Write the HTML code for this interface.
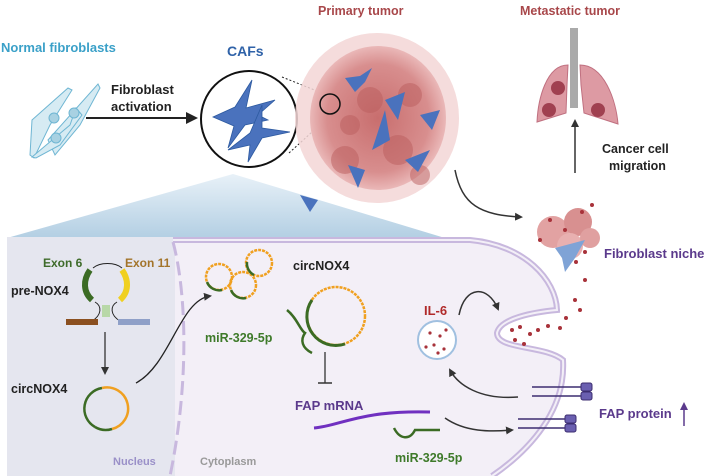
<!DOCTYPE html>
<html><head><meta charset="utf-8"><style>
html,body{margin:0;padding:0;background:#fff;}
svg{display:block;font-family:"Liberation Sans",sans-serif;font-weight:bold;}
</style></head><body>
<svg width="708" height="476" viewBox="0 0 708 476" xmlns="http://www.w3.org/2000/svg">
<defs>
<linearGradient id="tg" x1="0" y1="0" x2="0" y2="1"><stop offset="0" stop-color="#e8f1f8"/><stop offset="1" stop-color="#b3cfe3"/></linearGradient>
<radialGradient id="tum" cx="0.5" cy="0.5" r="0.5"><stop offset="0" stop-color="#c86e6e"/><stop offset="0.75" stop-color="#d88e8e"/><stop offset="1" stop-color="#eab8b8"/></radialGradient>
<marker id="ah" markerWidth="8" markerHeight="8" refX="6" refY="4" orient="auto" markerUnits="userSpaceOnUse"><path d="M0,0 L8,4 L0,8 z" fill="#333"/></marker>
<marker id="ahb" markerWidth="12" markerHeight="12" refX="10" refY="6" orient="auto" markerUnits="userSpaceOnUse"><path d="M0,0 L12,6 L0,12 z" fill="#222"/></marker>
</defs>

<!-- trapezoid (behind tumor) -->
<path d="M233,174 L445,238 L7,238 Z" fill="url(#tg)"/>

<!-- top labels -->
<text x="1" y="52" font-size="13" fill="#3aa0c8">Normal fibroblasts</text>
<text x="227" y="56" font-size="14" fill="#2f62a8">CAFs</text>
<text x="318" y="15" font-size="12.5" fill="#a8474a">Primary tumor</text>
<text x="520" y="15" font-size="12.5" fill="#a8474a">Metastatic tumor</text>
<text x="111" y="94" font-size="13" fill="#222">Fibroblast</text>
<text x="111" y="111" font-size="13" fill="#222">activation</text>
<text x="602" y="153" font-size="12.5" fill="#222">Cancer cell</text>
<text x="609" y="170" font-size="12.5" fill="#222">migration</text>

<!-- normal fibroblasts -->
<g fill="#d6ebf3" stroke="#6fb6d3" stroke-width="1">
<path d="M32,120 L68,88 L72,90 L50,125 L34,158 L30,155 Z"/>
<path d="M48,140 L98,84 L100,88 L80,125 L55,155 Z"/>
<path d="M32,157 L70,125 L76,108 L82,115 L60,145 L36,158 Z"/>
<circle cx="54" cy="118" r="5" fill="#a8d1e2"/><circle cx="74" cy="113" r="5" fill="#a8d1e2"/><circle cx="56" cy="138" r="5" fill="#a8d1e2"/>
</g>
<line x1="86" y1="118" x2="196" y2="118" stroke="#222" stroke-width="2" marker-end="url(#ahb)"/>

<!-- CAF circle -->
<circle cx="249" cy="119" r="48" fill="#fff" stroke="#111" stroke-width="2"/>
<g fill="#4a72bd" stroke="#2d5aa0" stroke-width="0.8">
<path d="M213,117 L235,107 L252,80 L246,108 L275,100 L258,115 L268,120 L245,125 L228,148 L234,126 Z"/>
<path d="M228,150 L250,133 L262,105 L262,128 L290,132 L262,138 L248,162 L250,145 Z"/>
</g>
<line x1="282" y1="77" x2="327" y2="95" stroke="#222" stroke-dasharray="2,2"/>
<line x1="289" y1="153" x2="334" y2="112" stroke="#222" stroke-dasharray="2,2"/>

<!-- tumor -->
<ellipse cx="377" cy="118" rx="82" ry="85" fill="#f3d6d6" opacity="0.85"/>
<ellipse cx="378" cy="118" rx="68" ry="72" fill="url(#tum)"/>
<g fill="#bb5e5e" opacity="0.5">
<circle cx="345" cy="160" r="14"/><circle cx="398" cy="150" r="15"/><circle cx="370" cy="100" r="13"/><circle cx="410" cy="95" r="12"/><circle cx="350" cy="125" r="10"/><circle cx="420" cy="175" r="10"/>
</g>
<g fill="#4a72bd">
<path d="M345,78 L360,76 L372,68 L365,82 L355,92 Z"/><path d="M385,100 L405,92 L398,120 Z"/><path d="M348,165 L365,170 L358,188 Z"/><path d="M300,195 L318,200 L310,212 Z"/><path d="M405,160 L430,150 L418,172 Z"/><path d="M420,115 L440,110 L432,130 Z"/><path d="M385,110 L372,150 L390,140 Z"/>
</g>
<circle cx="330" cy="104" r="10" fill="none" stroke="#111" stroke-width="1.5"/>

<!-- lungs -->
<rect x="570" y="28" width="8" height="80" fill="#aaa"/>
<path d="M568,65 C546,65 538,100 537,122 L566,113 L567,85 Z" fill="#dd9aa3" stroke="#c07080"/>
<path d="M580,65 C604,65 616,100 618,124 L584,113 L581,85 Z" fill="#dd9aa3" stroke="#c07080"/>
<circle cx="558" cy="88" r="7" fill="#a04050"/><circle cx="549" cy="110" r="7" fill="#a04050"/><circle cx="598" cy="110" r="7" fill="#a04050"/>
<line x1="575" y1="173" x2="575" y2="121" stroke="#333" stroke-width="1.5" marker-end="url(#ah)"/>
<path d="M455,170 C462,205 480,215 521,217" fill="none" stroke="#333" stroke-width="1.5" marker-end="url(#ah)"/>

<!-- cytoplasm -->
<path d="M7,237 L470,240 C525,245 556,280 557,310 C535,312 500,318 497,333 C497,350 545,345 563,360 C566,410 530,450 492,476 L7,476 Z" fill="#f3eff7"/>
<rect x="7" y="237" width="168" height="239" fill="#e5e6ef"/>
<path d="M173,240 L470,240 C525,245 556,280 557,310 C535,312 500,318 497,333 C497,350 545,345 563,360 C566,410 530,450 492,476" fill="none" stroke="#c8b8de" stroke-width="6"/>
<path d="M173,240 L470,240 C525,245 556,280 557,310 C535,312 500,318 497,333 C497,350 545,345 563,360 C566,410 530,450 492,476" fill="none" stroke="#f3eff7" stroke-width="2"/>
<path d="M173,242 C186,290 190,380 170,476" fill="none" stroke="#c8b8de" stroke-width="3" stroke-dasharray="14,6"/>

<!-- niche -->
<g>
<circle cx="553" cy="232" r="16" fill="#e2a2a2"/><circle cx="578" cy="222" r="14" fill="#d89090"/><circle cx="570" cy="246" r="13" fill="#e8b0b0"/><circle cx="590" cy="238" r="10" fill="#e0a0a0"/>
<path d="M555,248 L585,240 L575,258 L565,272 L562,258 Z" fill="#7fa3d6"/>
<g fill="#a8323a"><circle cx="550" cy="220" r="2"/><circle cx="565" cy="230" r="2"/><circle cx="540" cy="240" r="2"/><circle cx="585" cy="252" r="2"/><circle cx="582" cy="212" r="2"/><circle cx="592" cy="205" r="2"/><circle cx="576" cy="262" r="2"/><circle cx="585" cy="280" r="2"/><circle cx="575" cy="300" r="2"/><circle cx="580" cy="310" r="2"/><circle cx="566" cy="318" r="2"/><circle cx="560" cy="328" r="2"/>
<circle cx="512" cy="330" r="2"/><circle cx="520" cy="327" r="2"/><circle cx="530" cy="334" r="2"/><circle cx="515" cy="340" r="2"/><circle cx="538" cy="330" r="2"/><circle cx="548" cy="326" r="2"/><circle cx="524" cy="344" r="2"/></g>
</g>
<text x="604" y="258" font-size="13" fill="#5b3a8c">Fibroblast niche</text>

<!-- nucleus content -->
<text x="43" y="267" font-size="12" fill="#3e6b2a">Exon 6</text>
<text x="125" y="267" font-size="12" fill="#a3742a">Exon 11</text>
<text x="11" y="295" font-size="12.5" fill="#222">pre-NOX4</text>
<path d="M93,268 C100,262 115,262 122,268" fill="none" stroke="#222"/>
<path d="M90,270 C83,280 83,292 92,300" fill="none" stroke="#3b6b24" stroke-width="6"/>
<path d="M122,270 C129,280 129,292 120,300" fill="none" stroke="#f0d020" stroke-width="6"/>
<path d="M95,302 C102,306 102,315 92,321 M117,302 C110,306 110,315 120,321" fill="none" stroke="#222"/>
<rect x="102" y="305" width="8" height="12" fill="#b8d8a8"/>
<rect x="66" y="319" width="32" height="6" fill="#8b5020"/>
<rect x="118" y="319" width="32" height="6" fill="#8fa0c8"/>
<line x1="105" y1="332" x2="105" y2="373" stroke="#333" stroke-width="1.3" marker-end="url(#ah)"/>
<text x="11" y="393" font-size="12.5" fill="#222">circNOX4</text>
<path d="M95,427 A21,21 0 0 1 102,388" fill="none" stroke="#3b6b24" stroke-width="2.5"/>
<path d="M102,388 A21,21 0 0 1 112,429" fill="none" stroke="#f0a020" stroke-width="2.5"/>
<path d="M112,429 A21,21 0 0 1 95,427" fill="none" stroke="#3b6b24" stroke-width="2.5"/>
<path d="M136,383 C170,365 180,300 210,296" fill="none" stroke="#222" stroke-width="1.3" marker-end="url(#ah)"/>
<text x="113" y="465" font-size="11" fill="#9a90c8">Nucleus</text>
<text x="200" y="465" font-size="11" fill="#999">Cytoplasm</text>

<!-- cytoplasm content -->
<g fill="none" stroke-width="2.5">
<circle cx="219" cy="277" r="13" stroke="#f0a020" stroke-dasharray="3,1"/><circle cx="259" cy="263" r="13" stroke="#f0a020" stroke-dasharray="3,1"/><circle cx="243" cy="285" r="13" stroke="#f0a020" stroke-dasharray="3,1"/>
<path d="M207,282 A13,13 0 0 0 222,290" stroke="#3b6b24"/><path d="M231,290 A13,13 0 0 0 246,298" stroke="#3b6b24"/><path d="M247,262 A13,13 0 0 0 254,275" stroke="#3b6b24"/>
<circle cx="336" cy="316" r="29" stroke="#f0a020" stroke-dasharray="3,1"/>
<path d="M312,300 A29,29 0 0 0 345,344" stroke="#3b6b24" stroke-width="3"/>
<path d="M287,310 C297,318 300,330 305,333 C300,340 302,348 312,353" stroke="#3b6b24"/>
<path d="M314,428 C340,426 360,410 430,412" stroke="#7030c0" stroke-width="3"/>
<path d="M394,428 C400,440 410,440 415,430 L440,430" stroke="#3b6b24"/>
</g>
<text x="293" y="270" font-size="12.5" fill="#222">circNOX4</text>
<text x="205" y="342" font-size="12.5" fill="#3e7a2a">miR-329-5p</text>
<line x1="325" y1="352" x2="325" y2="383" stroke="#333" stroke-width="1.3"/>
<line x1="318" y1="383" x2="332" y2="383" stroke="#333" stroke-width="1.5"/>
<text x="295" y="410" font-size="13" fill="#5b3a8c">FAP mRNA</text>
<text x="395" y="462" font-size="12.5" fill="#3e7a2a">miR-329-5p</text>
<text x="424" y="315" font-size="13" fill="#b02a2a">IL-6</text>
<circle cx="437" cy="340" r="19" fill="#fff" stroke="#a0c0e0" stroke-width="2"/>
<g fill="#a8323a"><circle cx="430" cy="333" r="1.6"/><circle cx="440" cy="336" r="1.6"/><circle cx="434" cy="345" r="1.6"/><circle cx="444" cy="349" r="1.6"/><circle cx="426" cy="347" r="1.6"/><circle cx="446" cy="330" r="1.6"/><circle cx="438" cy="353" r="1.6"/></g>
<path d="M459,315 C465,285 488,285 498,309" fill="none" stroke="#333" stroke-width="1.5" marker-end="url(#ah)"/>
<path d="M518,397 C480,400 458,385 450,370" fill="none" stroke="#333" stroke-width="1.5" marker-end="url(#ah)"/>
<path d="M445,418 C465,432 490,432 512,430" fill="none" stroke="#333" stroke-width="1.5" marker-end="url(#ah)"/>
<g stroke="#3c2d70" stroke-width="1.5"><line x1="532" y1="387" x2="582" y2="387"/><line x1="532" y1="396" x2="582" y2="396"/><line x1="518" y1="419" x2="566" y2="419"/><line x1="518" y1="428" x2="566" y2="428"/></g>
<g fill="#6a5fb0" stroke="#3c2d70"><rect x="581" y="383" width="11" height="8" rx="2"/><rect x="581" y="392" width="11" height="8" rx="2"/><rect x="565" y="415" width="11" height="8" rx="2"/><rect x="565" y="424" width="11" height="8" rx="2"/></g>
<text x="599" y="418" font-size="13" fill="#5b3a8c">FAP protein</text>
<line x1="684" y1="426" x2="684" y2="408" stroke="#5b3a8c" stroke-width="1.5"/>
<path d="M680,410 L684,402 L688,410 Z" fill="#5b3a8c"/>
</svg>
</body></html>
